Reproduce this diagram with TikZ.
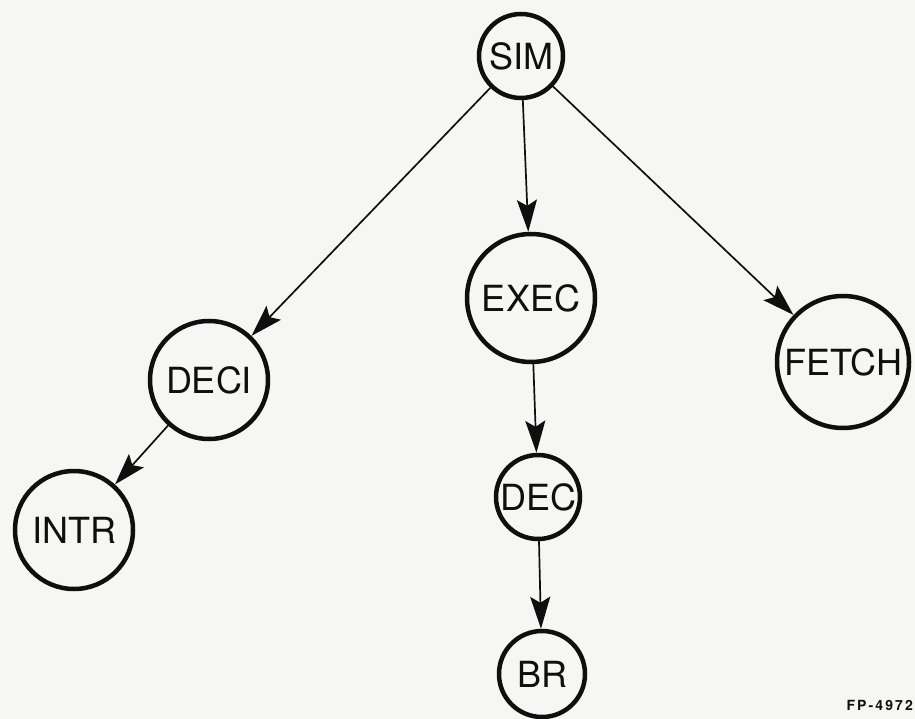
\documentclass[tikz,border=0pt]{standalone}
\usepackage{fontspec}
\setmainfont{TeX Gyre Heros}
\usetikzlibrary{arrows.meta}
\definecolor{paper}{RGB}{246,246,244}
\definecolor{ink}{RGB}{15,15,15}
\begin{document}
\begin{tikzpicture}[x=1pt,y=-1pt,
  proc/.style={circle,draw=ink,line width=4.5pt,inner sep=0pt,
    font=\fontsize{36}{40}\selectfont,text=ink},
  link/.style={draw=ink,line width=1.7pt,
    -{Stealth[length=32pt,width=20pt,inset=6pt]}},
  tag/.style={font=\bfseries\fontsize{14}{16}\selectfont\addfontfeature{LetterSpace=15},
    text=ink,inner sep=0pt,anchor=base east}]
\fill[paper] (0,0) rectangle (915,719);
\useasboundingbox (0,0) rectangle (915,719);
\node[proc,minimum size=84pt]  (sim)   at (521,56)  {SIM};
\node[proc,minimum size=128pt] (exec)  at (531,298) {EXEC};
\node[proc,minimum size=118pt] (deci)  at (209,380) {DECI};
\node[proc,minimum size=132pt] (fetch) at (843,362) {FETCH};
\node[proc,minimum size=118pt] (intr)  at (74,530)  {INTR};
\node[proc,minimum size=84pt]  (dec)   at (538,497) {DEC};
\node[proc,minimum size=86pt]  (br)    at (542,674) {BR};
\node[tag] (fp) at (913,710) {FP-4972};
\draw[link] (sim) -- (deci);
\draw[link] (sim) -- (exec);
\draw[link] (sim) -- (fetch);
\draw[link] (deci) -- (intr);
\draw[link] (exec) -- (dec);
\draw[link] (dec) -- (br);
\end{tikzpicture}
\end{document}
